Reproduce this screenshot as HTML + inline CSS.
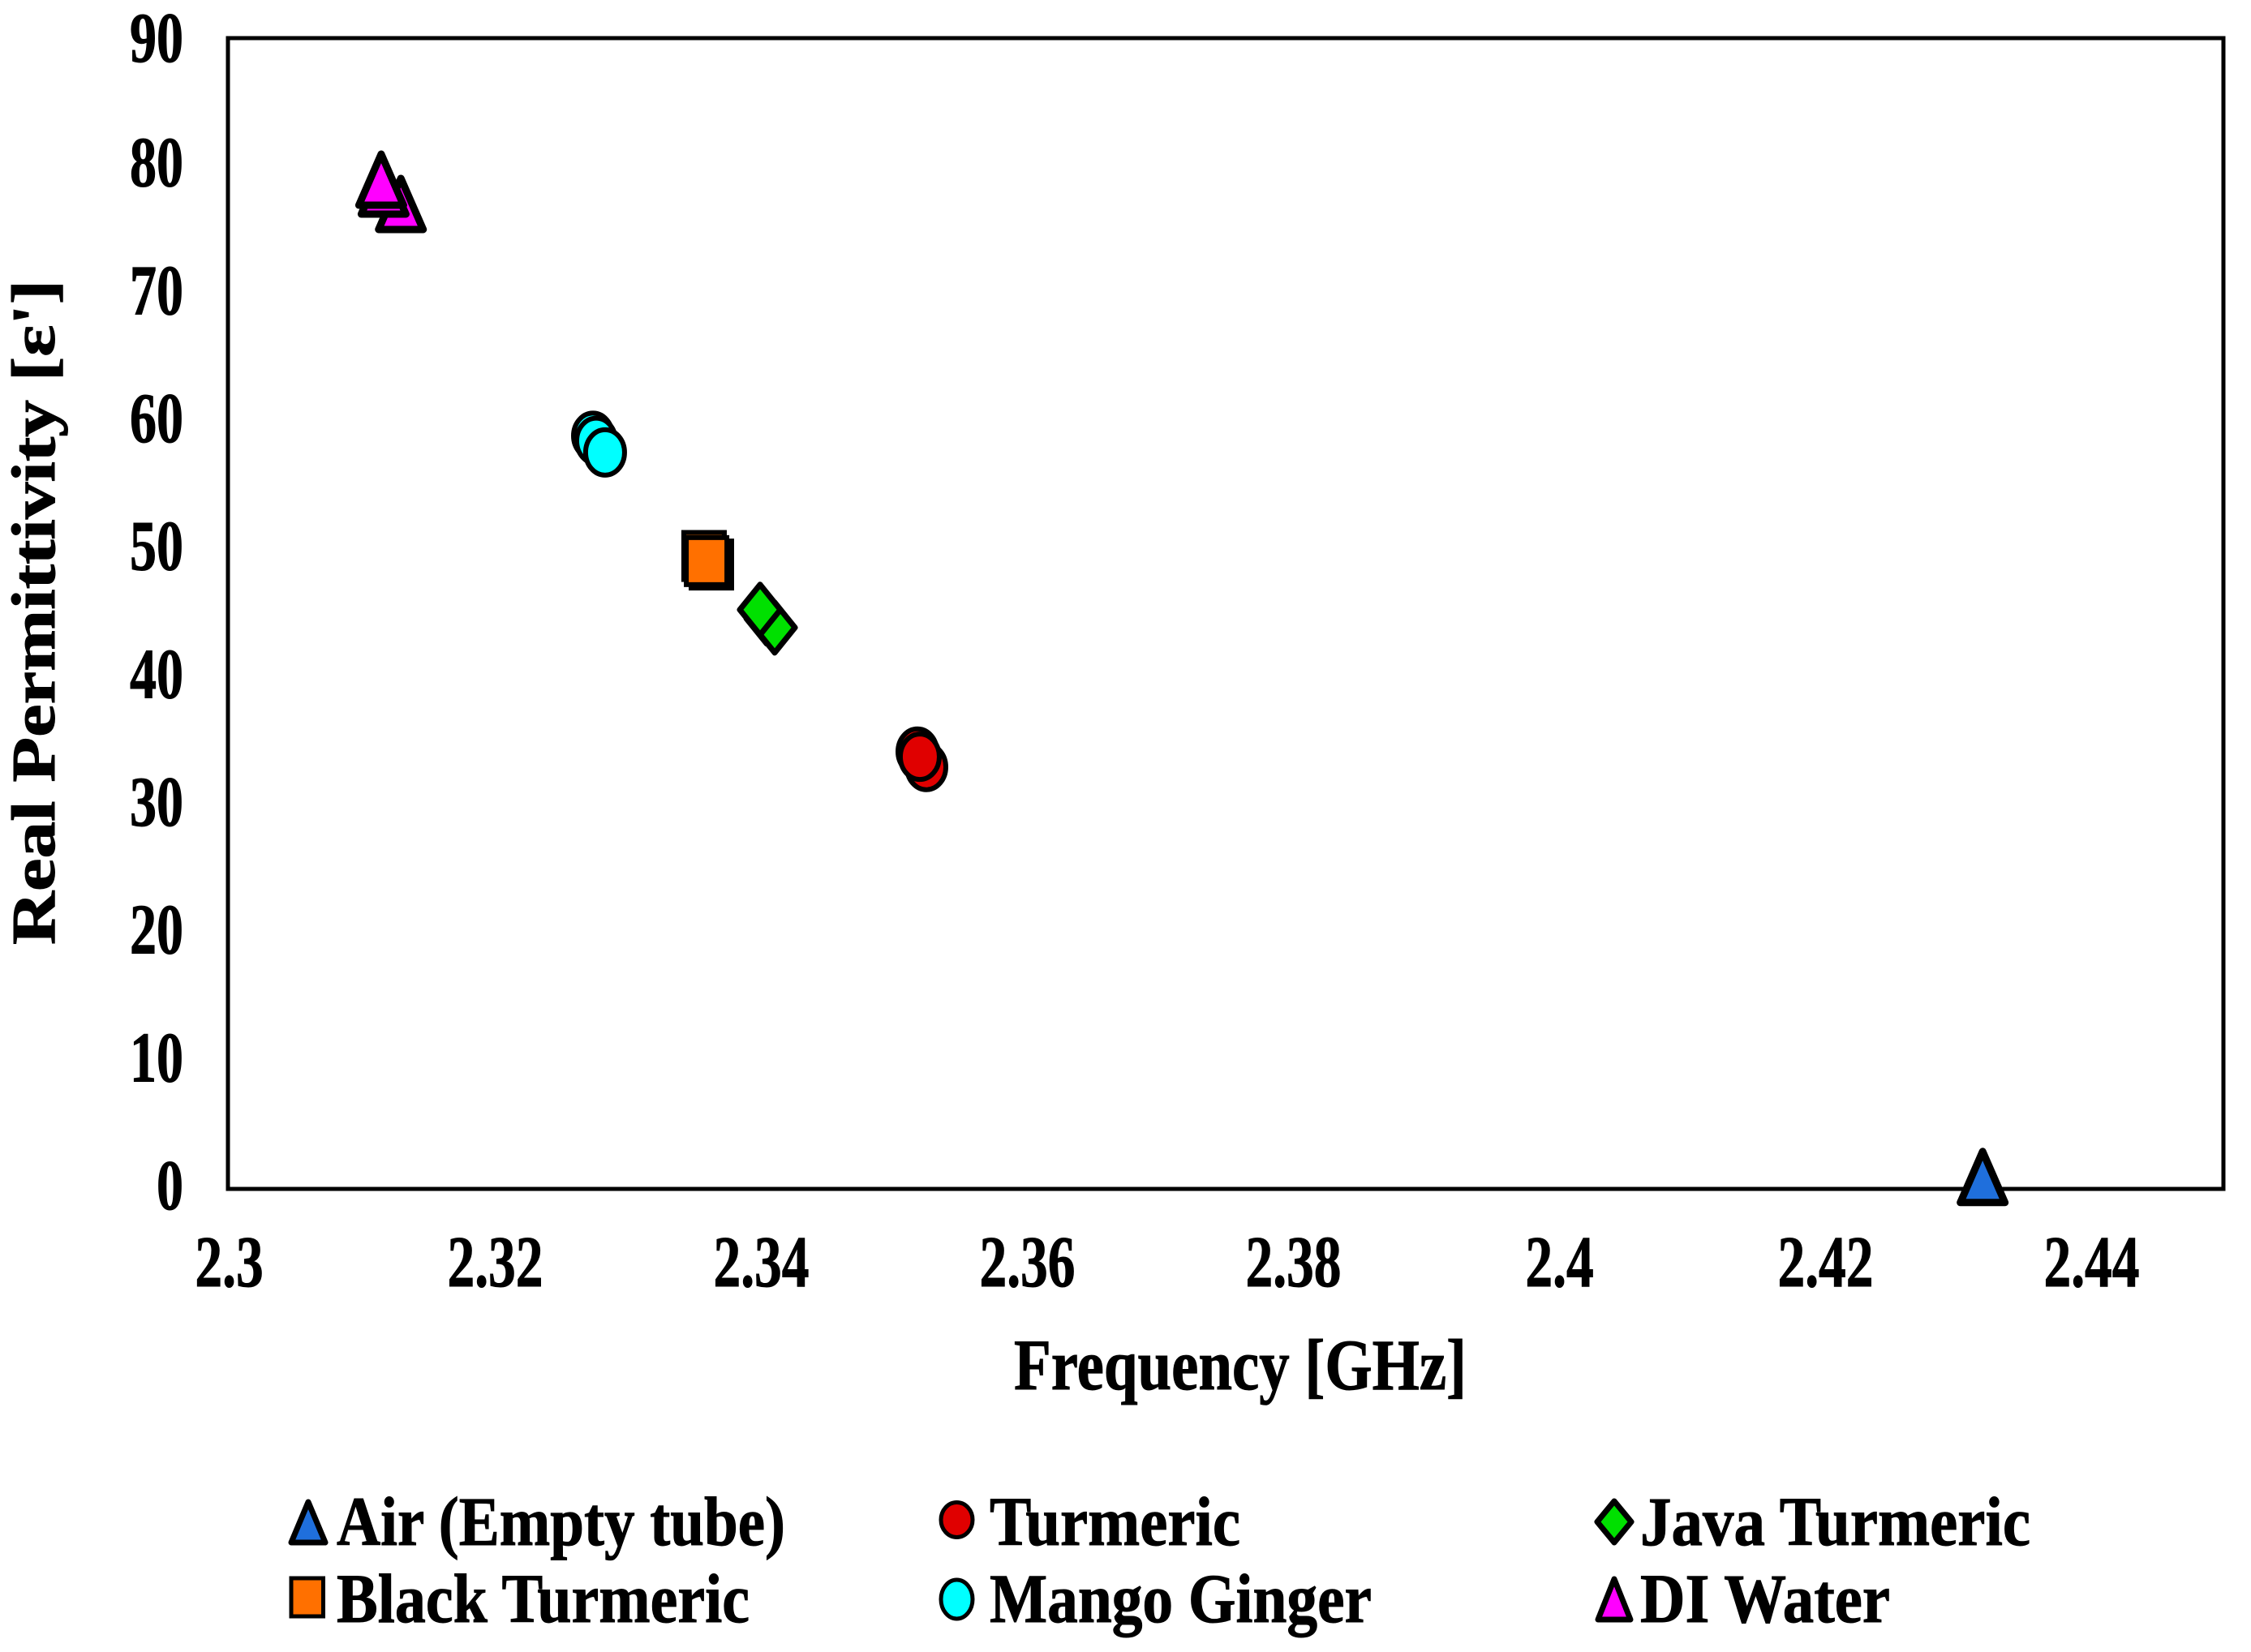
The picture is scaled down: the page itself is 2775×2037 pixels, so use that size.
<!DOCTYPE html>
<html lang="en">
<head>
<meta charset="utf-8">
<title>Real Permittivity vs Frequency</title>
<style>
html,body{margin:0;padding:0;background:#fff;}
svg{display:block;}
text{font-family:"Liberation Serif","DejaVu Serif",serif;font-weight:bold;fill:#000;stroke:#000;stroke-width:1;}
</style>
</head>
<body>
<svg id="chart" xmlns="http://www.w3.org/2000/svg" width="2775" height="2037" viewBox="0 0 2775 2037">
  <rect x="0" y="0" width="2775" height="2037" fill="#fff"/>
  <rect x="281" y="47" width="2460" height="1419" fill="#fff" stroke="#000" stroke-width="5"/>
  <g id="y-ticks"></g>
  <g id="x-ticks"></g>
  <g id="marks"></g>
  <text x="1250" y="1713" font-size="89" textLength="558" lengthAdjust="spacingAndGlyphs">Frequency [GHz]</text>
  <text transform="translate(67,1165) rotate(-90)" font-size="76" textLength="820" lengthAdjust="spacingAndGlyphs">Real Permittivity [ε']</text>
  <g>
    <g>
      <path d="M380 1852 L401 1902 L359 1902 Z" fill="#1f6fdc" stroke="#000" stroke-width="7" stroke-linejoin="round"/>
      <text x="415" y="1905" font-size="86" textLength="553" lengthAdjust="spacingAndGlyphs">Air (Empty tube)</text>
    </g>
    <g>
      <ellipse cx="1179.5" cy="1874" rx="19.5" ry="21.5" fill="#e00000" stroke="#000" stroke-width="5"/>
      <text x="1220" y="1905" font-size="86" textLength="309" lengthAdjust="spacingAndGlyphs">Turmeric</text>
    </g>
    <g>
      <path d="M1990 1851 L2011 1876.5 L1990 1902 L1969 1876.5 Z" fill="#00e000" stroke="#000" stroke-width="7" stroke-linejoin="round"/>
      <text x="2022" y="1905" font-size="86" textLength="481" lengthAdjust="spacingAndGlyphs">Java Turmeric</text>
    </g>
    <g>
      <rect x="359" y="1946" width="39.5" height="47" fill="#ff7000" stroke="#000" stroke-width="5"/>
      <text x="415" y="2000" font-size="86" textLength="509" lengthAdjust="spacingAndGlyphs">Black Turmeric</text>
    </g>
    <g>
      <ellipse cx="1179.5" cy="1972" rx="19.5" ry="24" fill="#00ffff" stroke="#000" stroke-width="5"/>
      <text x="1220" y="2000" font-size="86" textLength="471" lengthAdjust="spacingAndGlyphs">Mango Ginger</text>
    </g>
    <g>
      <path d="M1990 1947 L2010 1997 L1970 1997 Z" fill="#ff00ff" stroke="#000" stroke-width="7" stroke-linejoin="round"/>
      <text x="2022" y="2000" font-size="86" textLength="308" lengthAdjust="spacingAndGlyphs">DI Water</text>
    </g>
  </g>
</svg>
<script>
var yTickValues = [0, 10, 20, 30, 40, 50, 60, 70, 80, 90];
var xTickValues = [2.3, 2.32, 2.34, 2.36, 2.38, 2.4, 2.42, 2.44];
var airFreq = [2.4319];
var airPerm = [0.9];
var turmericFreq = [2.3525, 2.35183, 2.35201];
var turmericPerm = [33.0, 34.2, 33.8];
var javaFreq = [2.3405, 2.3411, 2.34];
var javaPerm = [44.6, 43.9, 45.3];
var blackFreq = [2.33634, 2.33579, 2.33598];
var blackPerm = [48.83, 49.5, 49.1];
var mangoFreq = [2.32744, 2.32768, 2.32835];
var mangoPerm = [58.9, 58.5, 57.6];
var waterFreq = [2.3130, 2.3117, 2.31152];
var waterPerm = [77.0, 78.2, 78.9];

var SVGNS = 'http://www.w3.org/2000/svg';
function xScale(v) { return 281 + (v - 2.3) / 0.15 * 2460; }
function yScale(v) { return 1466 - v / 90 * 1419; }

var yGroup = document.getElementById('y-ticks');
yTickValues.forEach(function (v) {
  var t = document.createElementNS(SVGNS, 'text');
  
  
  t.setAttribute('text-anchor', 'end');
  t.setAttribute('font-size', '88');
  var baselineShift = v === 90 ? 29 : 25;
  t.setAttribute('transform', 'translate(226,' + (yScale(v) + baselineShift) + ') scale(.75,1)');
  t.textContent = String(v);
  yGroup.appendChild(t);
});

var xGroup = document.getElementById('x-ticks');
xTickValues.forEach(function (v) {
  var t = document.createElementNS(SVGNS, 'text');
  
  
  t.setAttribute('text-anchor', 'middle');
  t.setAttribute('font-size', '90');
  t.setAttribute('transform', 'translate(' + (xScale(v) + 1.5) + ',1586) scale(.75,1)');
  t.textContent = String(v);
  xGroup.appendChild(t);
});

function markerShape(kind, cx, cy) {
  var el;
  if (kind === 'circle') {
    el = document.createElementNS(SVGNS, 'ellipse');
    el.setAttribute('cx', cx);
    el.setAttribute('cy', cy);
    el.setAttribute('rx', 24);
    el.setAttribute('ry', 28);
    el.setAttribute('stroke-width', 6);
  } else if (kind === 'square') {
    el = document.createElementNS(SVGNS, 'rect');
    el.setAttribute('x', cx - 25);
    el.setAttribute('y', cy - 29);
    el.setAttribute('width', 50);
    el.setAttribute('height', 58);
    el.setAttribute('stroke-width', 6);
  } else if (kind === 'diamond') {
    el = document.createElementNS(SVGNS, 'path');
    el.setAttribute('d', 'M' + cx + ' ' + (cy - 31) + ' L' + (cx + 25) + ' ' + cy + ' L' + cx + ' ' + (cy + 31) + ' L' + (cx - 25) + ' ' + cy + ' Z');
    el.setAttribute('stroke-width', 7);
    el.setAttribute('stroke-linejoin', 'round');
  } else {
    el = document.createElementNS(SVGNS, 'path');
    el.setAttribute('d', 'M' + cx + ' ' + (cy - 32) + ' L' + (cx + 27.5) + ' ' + (cy + 31) + ' L' + (cx - 27.5) + ' ' + (cy + 31) + ' Z');
    el.setAttribute('stroke-width', 9);
    el.setAttribute('stroke-linejoin', 'round');
  }
  el.setAttribute('stroke', '#000');
  return el;
}

function drawSeries(kind, fill, xs, ys, name) {
  var marks = document.getElementById('marks');
  xs.forEach(function (x, i) {
    var m = markerShape(kind, xScale(x), yScale(ys[i]));
    m.setAttribute('fill', fill);
    
    
    marks.appendChild(m);
  });
}

drawSeries('triangle', '#1f6fdc', airFreq, airPerm, 'air-point');
drawSeries('circle', '#e00000', turmericFreq, turmericPerm, 'turmeric-point');
drawSeries('diamond', '#00e000', javaFreq, javaPerm, 'java-turmeric-point');
drawSeries('square', '#ff7000', blackFreq, blackPerm, 'black-turmeric-point');
drawSeries('circle', '#00ffff', mangoFreq, mangoPerm, 'mango-ginger-point');
drawSeries('triangle', '#ff00ff', waterFreq, waterPerm, 'di-water-point');
</script>
</body>
</html>
